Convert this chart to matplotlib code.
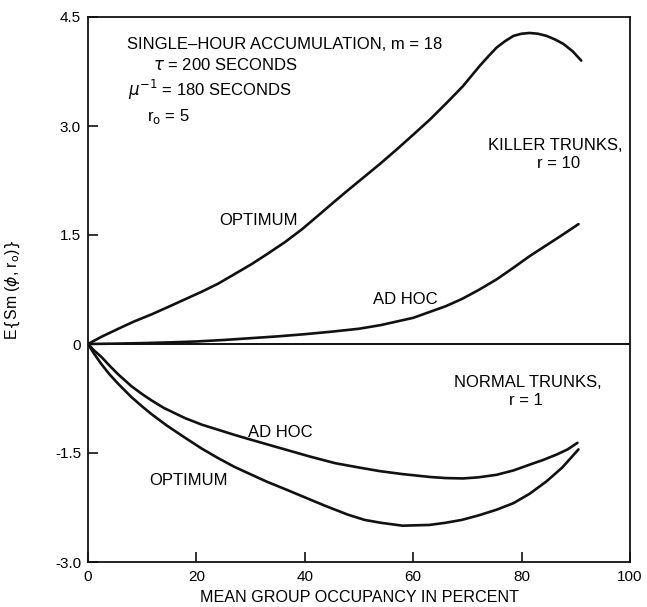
import numpy as np
import matplotlib
matplotlib.use("Agg")
import matplotlib.pyplot as plt

plt.rcParams['font.family'] = ['Liberation Sans', 'DejaVu Sans']
plt.rcParams['mathtext.fontset'] = 'dejavusans'

# ── Data ────────────────────────────────────────────────────────────────────
x_killer_opt = [0, 2.5, 5.6, 8.5, 11.8, 14.8, 17.9, 21, 24, 27, 30.2, 33, 36.3,
                39.5, 42.5, 45, 47.7, 50.8, 53.9, 57, 60, 63.1, 66.2, 69.2, 72.3,
                74, 75.4, 77, 78.5, 80, 81.5, 83, 84.6, 86.2, 87.7, 89.4, 91.0]
y_killer_opt = [0, 0.10, 0.21, 0.31, 0.41, 0.51, 0.615, 0.72, 0.83, 0.96, 1.10,
                1.235, 1.40, 1.58, 1.77, 1.93, 2.10, 2.29, 2.48, 2.68, 2.88, 3.09,
                3.32, 3.55, 3.83, 3.97, 4.08, 4.17, 4.24, 4.27, 4.28, 4.27, 4.24,
                4.19, 4.13, 4.03, 3.90]

x_killer_adhoc = [0, 5, 10, 15, 20, 25, 30, 35, 40, 45, 50, 54, 57, 60, 63, 66,
                  69, 72, 75.4, 78.5, 81.5, 84.6, 87.7, 90.5]
y_killer_adhoc = [0, 0.005, 0.012, 0.022, 0.035, 0.055, 0.08, 0.105, 0.135, 0.17,
                  0.21, 0.26, 0.31, 0.36, 0.44, 0.52, 0.62, 0.74, 0.89, 1.05,
                  1.21, 1.36, 1.51, 1.65]

x_normal_adhoc = [0, 1, 2.5, 4, 5.6, 8, 10, 11.8, 14, 17.9, 21, 24, 27, 30.2, 33,
                  36.3, 41, 45.6, 50, 53.9, 58, 63.1, 66, 69.2, 72, 75.4, 78.5,
                  81.5, 84, 86.5, 88.5, 90.3]
y_normal_adhoc = [0, -0.08, -0.18, -0.30, -0.42, -0.58, -0.69, -0.78, -0.88, -1.02,
                  -1.11, -1.18, -1.25, -1.32, -1.38, -1.45, -1.55, -1.64, -1.70,
                  -1.75, -1.79, -1.83, -1.845, -1.85, -1.835, -1.80, -1.74, -1.66,
                  -1.595, -1.52, -1.45, -1.36]

x_normal_opt = [0, 1, 2.5, 4, 5.6, 8, 10, 11.8, 14.5, 17.9, 21, 24, 27, 30.2, 33,
                36.3, 40, 43.7, 48, 51, 54, 58, 63, 66, 69, 72, 75.4, 78.5, 81.5,
                84.6, 87.5, 90.5]
y_normal_opt = [0, -0.12, -0.28, -0.42, -0.55, -0.73, -0.86, -0.97, -1.12, -1.29,
                -1.44, -1.57, -1.69, -1.80, -1.895, -1.995, -2.11, -2.225, -2.35,
                -2.42, -2.46, -2.50, -2.49, -2.46, -2.42, -2.36, -2.28, -2.19,
                -2.06, -1.89, -1.70, -1.45]

x_ticks = [0, 20, 40, 60, 80, 100]
y_ticks = [4.5, 3.0, 1.5, 0, -1.5, -3.0]
y_tick_labels = ['4.5', '3.0', '1.5', '0', '-1.5', '-3.0']

# ── Figure ───────────────────────────────────────────────────────────────────
fig = plt.figure(figsize=(6.47, 6.07), dpi=100)
ax = fig.add_axes([88 / 647, 1 - 562 / 607, 542 / 647, 545 / 607])

lw = 1.9
col = '#111111'
for xs, ys in [(x_killer_opt, y_killer_opt), (x_killer_adhoc, y_killer_adhoc),
               (x_normal_adhoc, y_normal_adhoc), (x_normal_opt, y_normal_opt)]:
    ax.plot(xs, ys, color=col, lw=lw, solid_capstyle='round', solid_joinstyle='round')

ax.axhline(0, color=col, lw=1.4)

ax.set_xlim(0, 100)
ax.set_ylim(-3.0, 4.5)
ax.set_xticks(x_ticks)
ax.set_yticks(y_ticks)
ax.set_yticklabels(y_tick_labels)
ax.tick_params(direction='in', length=7, width=1.2, labelsize=11, color=col)
ax.tick_params(axis='x', pad=6)
ax.tick_params(axis='y', pad=5)
for s in ax.spines.values():
    s.set_linewidth(1.3)
    s.set_color(col)

ax.set_xlabel('MEAN GROUP OCCUPANCY IN PERCENT', fontsize=11.6)
ax.xaxis.set_label_coords(0.5, -0.052)
ax.set_ylabel(r'E$\{$Sm ($\phi$, r$_\mathrm{o}$)$\}$', fontsize=11.3)
ax.yaxis.set_label_coords(-0.122, 0.5)

# ── Annotations ──────────────────────────────────────────────────────────────
fs = 12
tr = ax.transAxes
ax.text(0.072, 0.949, 'SINGLE\u2013HOUR ACCUMULATION, m = 18', transform=tr,
        fontsize=fs, va='center', ha='left')
ax.text(0.12, 0.912, r'$\tau$ = 200 SECONDS', transform=tr, fontsize=fs,
        va='center', ha='left')
ax.text(0.074, 0.866, r'$\mu^{-1}$ = 180 SECONDS', transform=tr, fontsize=fs,
        va='center', ha='left')
ax.text(0.109, 0.817, r'r$_\mathrm{o}$ = 5', transform=tr, fontsize=fs,
        va='center', ha='left')

ax.text(0.314, 0.626, 'OPTIMUM', transform=tr, fontsize=fs, ha='center', va='center')
ax.text(0.585, 0.481, 'AD HOC', transform=tr, fontsize=fs, ha='center', va='center')
ax.text(0.862, 0.765, 'KILLER TRUNKS,', transform=tr, fontsize=fs, ha='center', va='center')
ax.text(0.869, 0.732, 'r = 10', transform=tr, fontsize=fs, ha='center', va='center')
ax.text(0.811, 0.330, 'NORMAL TRUNKS,', transform=tr, fontsize=fs, ha='center', va='center')
ax.text(0.808, 0.297, 'r = 1', transform=tr, fontsize=fs, ha='center', va='center')
ax.text(0.354, 0.237, 'AD HOC', transform=tr, fontsize=fs, ha='center', va='center')
ax.text(0.185, 0.150, 'OPTIMUM', transform=tr, fontsize=fs, ha='center', va='center')

fig.savefig('out.png', dpi=100, facecolor='white')
